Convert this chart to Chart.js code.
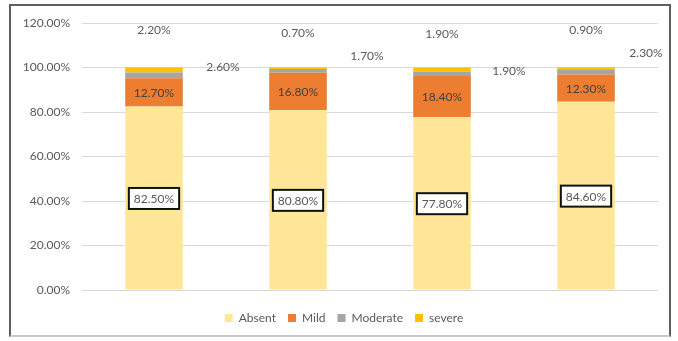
<!DOCTYPE html>
<html>
<head>
<meta charset="utf-8">
<script src="https://cdn.jsdelivr.net/npm/chart.js@4/dist/chart.umd.min.js"></script>
<style>
  html, body { margin: 0; padding: 0; background: #fff; }
  #wrap { position: absolute; left: 0; top: 0; width: 678px; height: 341px; }
  #frame { position: absolute; left: 9px; top: 4px; width: 662px; height: 333px;
           border: 2px solid #5f5f5f; border-bottom-color: #c8c8c8; box-sizing: border-box; }
  canvas { position: absolute; left: 0; top: 0; }
</style>
</head>
<body>
<div id="wrap">
  <div id="frame"></div>
  <canvas id="barChart" width="678" height="341"></canvas>
</div>
<script>
// categories have no visible names on the axis
var groups = ['1', '2', '3', '4']
var seriesNames = ['Absent', 'Mild', 'Moderate', 'severe']
var absent = [82.5, 80.8, 77.8, 84.6]
var mild = [12.7, 16.8, 18.4, 12.3]
var moderate = [2.6, 1.7, 1.9, 2.3]
var severe = [2.2, 0.7, 1.9, 0.9]
var yTicks = [0, 20, 40, 60, 80, 100, 120]

var colors = ['#FFE699', '#ED7D31', '#A5A5A5', '#FFC000']
var textColor = '#595959'
var fontFamily = 'Lato, "Liberation Sans", sans-serif'

// hand-placed label nudges, like in the original spreadsheet
var modNudge = [[69, 0], [69, -11], [67, 4], [60, -14]]
var sevNudge = [-37, -34, -33, -37]

function pct(v) { return v.toFixed(2) + '%' }

var labelPlugin = {
  id: 'segLabels',
  afterDatasetsDraw: function (chart) {
    var ctx = chart.ctx
    var yScale = chart.scales.y
    ctx.save()
    ctx.font = '12px ' + fontFamily
    ctx.textAlign = 'center'
    ctx.textBaseline = 'middle'

    // Absent: boxed labels in the middle of the segment
    chart.getDatasetMeta(0).data.forEach(function (el, j) {
      var cy = (el.y + el.base) / 2
      var txt = pct(absent[j])
      var w = ctx.measureText(txt).width + 10
      ctx.fillStyle = '#fff'
      ctx.fillRect(el.x - w / 2, cy - 10, w, 21)
      ctx.lineWidth = 2
      ctx.strokeStyle = '#111'
      ctx.strokeRect(el.x - w / 2, cy - 10, w, 21)
      ctx.fillStyle = textColor
      ctx.fillText(txt, el.x, cy + 1)
    })

    // Mild: centered in the segment
    chart.getDatasetMeta(1).data.forEach(function (el, j) {
      ctx.fillStyle = '#404040'
      ctx.fillText(pct(mild[j]), el.x, (el.y + el.base) / 2 + 1)
    })

    // Moderate: to the right of the bar
    chart.getDatasetMeta(2).data.forEach(function (el, j) {
      ctx.fillStyle = textColor
      ctx.fillText(pct(moderate[j]), el.x + modNudge[j][0], yScale.getPixelForValue(100) + modNudge[j][1])
    })

    // severe: above the bar
    chart.getDatasetMeta(3).data.forEach(function (el, j) {
      ctx.fillStyle = textColor
      ctx.fillText(pct(severe[j]), el.x, el.y + sevNudge[j])
    })
    ctx.restore()
  }
}

var seriesData = [absent, mild, moderate, severe]
var datasets = seriesNames.map(function (name, i) {
  return {
    label: name,
    data: seriesData[i],
    backgroundColor: colors[i],
    borderWidth: 0,
    barPercentage: 0.4,
    categoryPercentage: 1.0
  }
})

var barCanvas = document.getElementById('barChart').getContext('2d')
// eslint-disable-next-line no-unused-vars
var barChart = new Chart(barCanvas, {
  type: 'bar',
  data: { labels: groups, datasets: datasets },
  options: {
    responsive: false,
    animation: false,
    layout: { padding: { left: 20, right: 10, top: 23, bottom: 7 } },
    plugins: {
      legend: {
        position: 'bottom',
        labels: {
          boxWidth: 8,
          boxHeight: 8,
          padding: 12,
          color: textColor,
          font: { family: fontFamily, size: 12 }
        }
      },
      tooltip: { enabled: false }
    },
    scales: {
      // x axis has no labels, only leaves a gap above the legend
      x: {
        stacked: true,
        afterFit: function (scale) { scale.height = 10 },
        border: { display: false },
        grid: { display: false, drawTicks: false },
        ticks: { display: false }
      },
      y: {
        stacked: true,
        min: 0,
        max: 120,
        afterFit: function (scale) { scale.width = 62 },
        afterBuildTicks: function (scale) {
          scale.ticks = yTicks.map(function (v) { return { value: v } })
        },
        border: { display: false },
        grid: { color: '#D9D9D9', drawTicks: false },
        ticks: {
          padding: 12,
          color: textColor,
          font: { family: fontFamily, size: 12 },
          callback: function (v) { return pct(v) }
        }
      },
      // empty spacer on the right so the legend sits where it does in the original
      yRight: {
        position: 'right',
        afterFit: function (scale) { scale.width = 10 },
        border: { display: false },
        grid: { display: false, drawTicks: false },
        ticks: { display: false }
      }
    }
  },
  plugins: [labelPlugin]
})
</script>
</body>
</html>
